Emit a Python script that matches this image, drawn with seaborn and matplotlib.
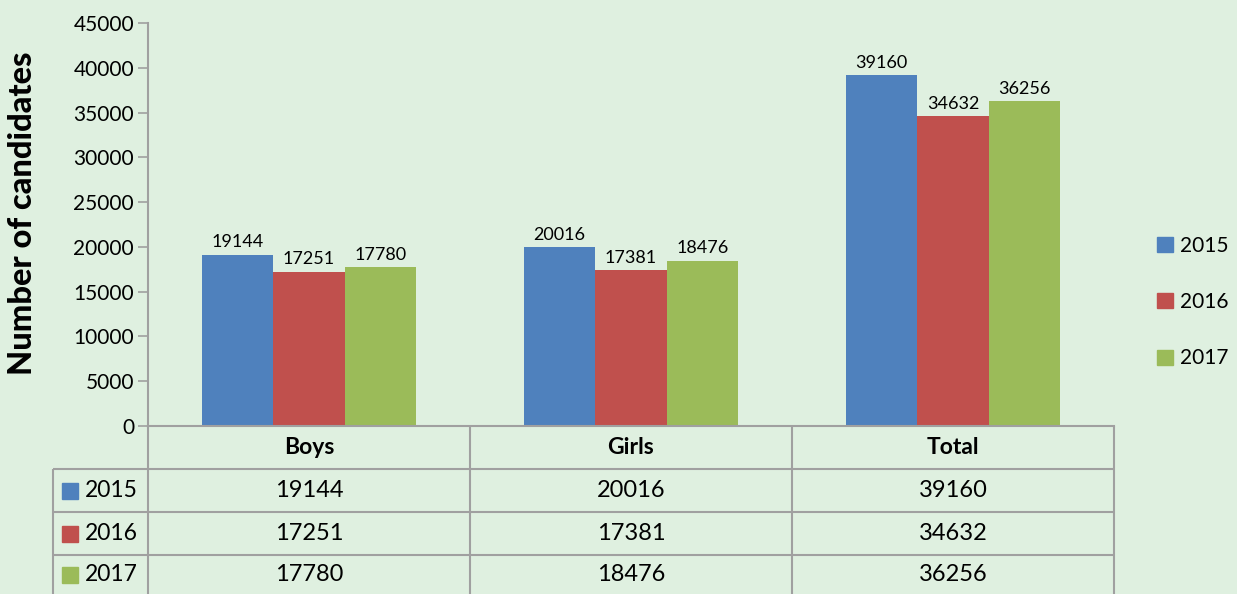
import matplotlib
matplotlib.use("Agg")
import matplotlib.pyplot as plt
import seaborn as sns
import pandas as pd
from matplotlib.transforms import blended_transform_factory
from matplotlib.patches import Rectangle
from matplotlib.lines import Line2D

# ---- data ----
categories = ["Boys", "Girls", "Total"]
years = ["2015", "2016", "2017"]
values_2015 = [19144, 20016, 39160]
values_2016 = [17251, 17381, 34632]
values_2017 = [17780, 18476, 36256]
y_ticks = [0, 5000, 10000, 15000, 20000, 25000, 30000, 35000, 40000, 45000]
y_label = "Number of candidates"

# ---- style ----
colors = ["#4F81BD", "#C0504D", "#9BBB59"]
BG = "#DFF0E0"
GRID = "#A0A0A0"
FONT = ["Lato", "DejaVu Sans"]

plt.rcParams["font.family"] = FONT

W, H = 1237, 594
fig = plt.figure(figsize=(W / 100, H / 100), dpi=100)
fig.patch.set_facecolor(BG)
ax = fig.add_axes([148 / W, 1 - 426 / H, (1114 - 148) / W, (426 - 23) / H])
ax.set_facecolor(BG)

series = {"2015": values_2015, "2016": values_2016, "2017": values_2017}
rows = []
for yr in years:
    for cat, v in zip(categories, series[yr]):
        rows.append({"Category": cat, "Year": yr, "Candidates": v})
df = pd.DataFrame(rows)

sns.barplot(data=df, x="Category", y="Candidates", hue="Year", order=categories,
            hue_order=years, palette=colors, saturation=1, width=0.667,
            edgecolor="none", linewidth=0, ax=ax, errorbar=None)

for cont in ax.containers:
    ax.bar_label(cont, fontsize=13, padding=3, color="#000000")

ax.set_xlim(-0.5, len(categories) - 0.5)
ax.set_ylim(y_ticks[0], y_ticks[-1])
ax.set_yticks(y_ticks)
ax.set_yticklabels([str(t) for t in y_ticks], fontsize=15)
ax.tick_params(axis="y", direction="out", length=7, width=1.2, color=GRID, pad=3)
ax.tick_params(axis="x", length=0, labelbottom=False)
ax.set_xlabel("")
ax.set_ylabel(y_label, fontsize=23.5, fontweight=900)
ax.yaxis.set_label_coords((23 - 148) / 966, (426 - 213) / 403)
ax.yaxis.label.set_va("center")
for s in ["top", "right"]:
    ax.spines[s].set_visible(False)
for s in ["left", "bottom"]:
    ax.spines[s].set_color(GRID)
    ax.spines[s].set_linewidth(1.5)

# legend
handles = [Rectangle((0, 0), 1, 1, color=c) for c in colors]
leg = fig.legend(handles, years, loc="center left",
                 bbox_to_anchor=(1157 / W, 1 - 302 / H), frameon=False,
                 fontsize=15, handlelength=0.75, handleheight=0.75,
                 handletextpad=0.35, labelspacing=1.75, borderpad=0,
                 borderaxespad=0)
if ax.get_legend() is not None:
    ax.get_legend().remove()

# ---- data table below the axes ----
def fy(y):
    return 1 - y / H

bt = blended_transform_factory(ax.transData, fig.transFigure)
x_right_px = ax.transData.transform((len(categories) - 0.5, 0))[0]
row_edges = [426, 469, 512, 555, 600]
label_left = 53

lkw = dict(color=GRID, linewidth=1.5, solid_capstyle="butt")
# vertical lines
for xb in [i - 0.5 for i in range(len(categories) + 1)]:
    fig.add_artist(Line2D([xb, xb], [fy(426), fy(600)], transform=bt, **lkw))
fig.add_artist(Line2D([label_left / W] * 2, [fy(469), fy(600)],
                      transform=fig.transFigure, **lkw))
# horizontal lines
for ye in row_edges[1:-1]:
    fig.add_artist(Line2D([label_left / W, x_right_px / W], [fy(ye), fy(ye)],
                          transform=fig.transFigure, **lkw))

# header
hy = (row_edges[0] + row_edges[1]) / 2
for i, cat in enumerate(categories):
    fig.text(i, fy(hy), cat, transform=bt, ha="center", va="center",
             fontsize=16.5, fontweight="bold")

for r, yr in enumerate(years):
    cy = (row_edges[r + 1] + row_edges[r + 2]) / 2
    if r == len(years) - 1:
        cy = (row_edges[r + 1] + 594) / 2
    fig.add_artist(Rectangle((62 / W, fy(cy + 8)), 16 / W, 16 / H,
                             transform=fig.transFigure, color=colors[r]))
    fig.text(85 / W, fy(cy), yr, ha="left", va="center", fontsize=16.5)
    for i, v in enumerate(series[yr]):
        fig.text(i, fy(cy), str(v), transform=bt, ha="center", va="center",
                 fontsize=17)

fig.savefig("out.png", dpi=100, facecolor=BG)
